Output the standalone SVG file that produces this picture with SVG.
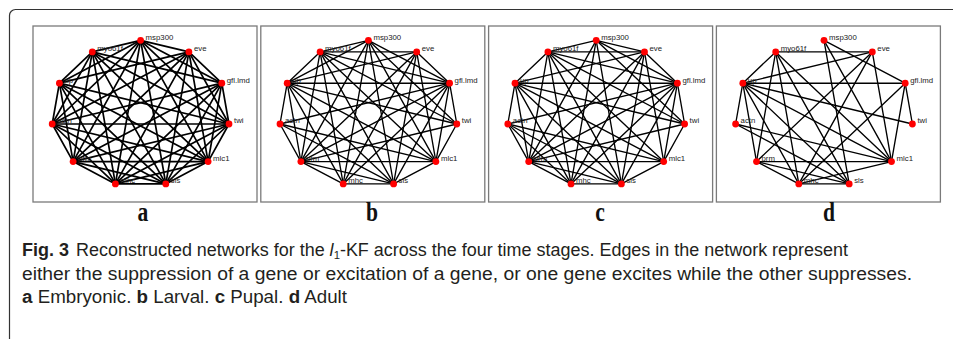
<svg xmlns="http://www.w3.org/2000/svg" width="953" height="339" viewBox="0 0 953 339">
<style>
  .frame{fill:none;stroke:#333;stroke-width:1.2}
  .panel{fill:#fff;stroke:#7a7a7a;stroke-width:1.3}
  .edges line{stroke:#000;stroke-width:1.35;stroke-linecap:round}
  #a-edges line{stroke-width:1.7}
  .node circle{fill:#ff0000}
  .node text{font-family:"Liberation Sans",Arial,sans-serif;font-size:7.8px;fill:#222}
  .tag{font-family:"Liberation Serif","Times New Roman",serif;font-weight:bold;font-size:27px;fill:#111;text-anchor:middle}
  .cap{font-family:"Liberation Sans",Arial,sans-serif;font-size:17.5px;fill:#231f20}
</style>
<rect class="frame" x="9.5" y="9.5" width="960" height="336" rx="6"/>

<!-- panel a: embryonic -->
<g id="panel-a" transform="translate(140.6,113.6)">
  <rect class="panel" x="-107.6" y="-87.6" width="224" height="176"/>
  <g id="a-edges" class="edges">
    <line x1="0" y1="-73.3" x2="48.3" y2="-61.7"/>
    <line x1="0" y1="-73.3" x2="81.2" y2="-30.4"/>
    <line x1="0" y1="-73.3" x2="88.4" y2="10.4"/>
    <line x1="0" y1="-73.3" x2="67.5" y2="48"/>
    <line x1="0" y1="-73.3" x2="25.2" y2="70.3"/>
    <line x1="0" y1="-73.3" x2="-25.2" y2="70.3"/>
    <line x1="0" y1="-73.3" x2="-67.5" y2="48"/>
    <line x1="0" y1="-73.3" x2="-88.4" y2="10.4"/>
    <line x1="0" y1="-73.3" x2="-81.2" y2="-30.4"/>
    <line x1="0" y1="-73.3" x2="-48.3" y2="-61.7"/>
    <line x1="48.3" y1="-61.7" x2="81.2" y2="-30.4"/>
    <line x1="48.3" y1="-61.7" x2="88.4" y2="10.4"/>
    <line x1="48.3" y1="-61.7" x2="67.5" y2="48"/>
    <line x1="48.3" y1="-61.7" x2="25.2" y2="70.3"/>
    <line x1="48.3" y1="-61.7" x2="-25.2" y2="70.3"/>
    <line x1="48.3" y1="-61.7" x2="-67.5" y2="48"/>
    <line x1="48.3" y1="-61.7" x2="-88.4" y2="10.4"/>
    <line x1="48.3" y1="-61.7" x2="-81.2" y2="-30.4"/>
    <line x1="81.2" y1="-30.4" x2="88.4" y2="10.4"/>
    <line x1="81.2" y1="-30.4" x2="67.5" y2="48"/>
    <line x1="81.2" y1="-30.4" x2="25.2" y2="70.3"/>
    <line x1="81.2" y1="-30.4" x2="-25.2" y2="70.3"/>
    <line x1="81.2" y1="-30.4" x2="-67.5" y2="48"/>
    <line x1="81.2" y1="-30.4" x2="-88.4" y2="10.4"/>
    <line x1="81.2" y1="-30.4" x2="-48.3" y2="-61.7"/>
    <line x1="88.4" y1="10.4" x2="67.5" y2="48"/>
    <line x1="88.4" y1="10.4" x2="25.2" y2="70.3"/>
    <line x1="88.4" y1="10.4" x2="-25.2" y2="70.3"/>
    <line x1="88.4" y1="10.4" x2="-67.5" y2="48"/>
    <line x1="88.4" y1="10.4" x2="-88.4" y2="10.4"/>
    <line x1="88.4" y1="10.4" x2="-81.2" y2="-30.4"/>
    <line x1="88.4" y1="10.4" x2="-48.3" y2="-61.7"/>
    <line x1="67.5" y1="48" x2="25.2" y2="70.3"/>
    <line x1="67.5" y1="48" x2="-25.2" y2="70.3"/>
    <line x1="67.5" y1="48" x2="-67.5" y2="48"/>
    <line x1="67.5" y1="48" x2="-88.4" y2="10.4"/>
    <line x1="67.5" y1="48" x2="-81.2" y2="-30.4"/>
    <line x1="67.5" y1="48" x2="-48.3" y2="-61.7"/>
    <line x1="25.2" y1="70.3" x2="-25.2" y2="70.3"/>
    <line x1="25.2" y1="70.3" x2="-67.5" y2="48"/>
    <line x1="25.2" y1="70.3" x2="-88.4" y2="10.4"/>
    <line x1="25.2" y1="70.3" x2="-81.2" y2="-30.4"/>
    <line x1="25.2" y1="70.3" x2="-48.3" y2="-61.7"/>
    <line x1="-25.2" y1="70.3" x2="-67.5" y2="48"/>
    <line x1="-25.2" y1="70.3" x2="-88.4" y2="10.4"/>
    <line x1="-25.2" y1="70.3" x2="-81.2" y2="-30.4"/>
    <line x1="-25.2" y1="70.3" x2="-48.3" y2="-61.7"/>
    <line x1="-67.5" y1="48" x2="-88.4" y2="10.4"/>
    <line x1="-67.5" y1="48" x2="-81.2" y2="-30.4"/>
    <line x1="-67.5" y1="48" x2="-48.3" y2="-61.7"/>
    <line x1="-88.4" y1="10.4" x2="-81.2" y2="-30.4"/>
    <line x1="-88.4" y1="10.4" x2="-48.3" y2="-61.7"/>
    <line x1="-81.2" y1="-30.4" x2="-48.3" y2="-61.7"/>
  </g>
  <g id="a-msp300" class="node"><circle cx="0" cy="-73.3" r="3.4"/><text x="5" y="-73.8">msp300</text></g>
  <g id="a-eve" class="node"><circle cx="48.3" cy="-61.7" r="3.4"/><text x="53.3" y="-62.2">eve</text></g>
  <g id="a-gfl" class="node"><circle cx="81.2" cy="-30.4" r="3.4"/><text x="86.2" y="-30.9">gfl.lmd</text></g>
  <g id="a-twi" class="node"><circle cx="88.4" cy="10.4" r="3.4"/><text x="93.4" y="9.9">twi</text></g>
  <g id="a-mlc1" class="node"><circle cx="67.5" cy="48" r="3.4"/><text x="72.5" y="47.5">mlc1</text></g>
  <g id="a-sls" class="node"><circle cx="25.2" cy="70.3" r="3.4"/><text x="30.2" y="69.8">sls</text></g>
  <g id="a-mhc" class="node"><circle cx="-25.2" cy="70.3" r="3.4"/><text x="-20.2" y="69.8">mhc</text></g>
  <g id="a-prm" class="node"><circle cx="-67.5" cy="48" r="3.4"/><text x="-62.5" y="47.5">prm</text></g>
  <g id="a-actn" class="node"><circle cx="-88.4" cy="10.4" r="3.4"/><text x="-83.4" y="9.9">actn</text></g>
  <g id="a-up" class="node"><circle cx="-81.2" cy="-30.4" r="3.4"/><text x="-76.2" y="-30.9">up</text></g>
  <g id="a-myo61f" class="node"><circle cx="-48.3" cy="-61.7" r="3.4"/><text x="-43.3" y="-62.2">myo61f</text></g>
</g>

<!-- panel b: larval -->
<g id="panel-b" transform="translate(368.4,113.6)">
  <rect class="panel" x="-107.6" y="-87.6" width="224" height="176"/>
  <g id="b-edges" class="edges">
    <line x1="0" y1="-73.3" x2="-48.3" y2="-61.7"/>
    <line x1="0" y1="-73.3" x2="-81.2" y2="-30.4"/>
    <line x1="0" y1="-73.3" x2="-67.5" y2="48"/>
    <line x1="0" y1="-73.3" x2="-25.2" y2="70.3"/>
    <line x1="0" y1="-73.3" x2="25.2" y2="70.3"/>
    <line x1="0" y1="-73.3" x2="67.5" y2="48"/>
    <line x1="0" y1="-73.3" x2="88.4" y2="10.4"/>
    <line x1="0" y1="-73.3" x2="81.2" y2="-30.4"/>
    <line x1="48.3" y1="-61.7" x2="-48.3" y2="-61.7"/>
    <line x1="48.3" y1="-61.7" x2="-81.2" y2="-30.4"/>
    <line x1="48.3" y1="-61.7" x2="-67.5" y2="48"/>
    <line x1="48.3" y1="-61.7" x2="-25.2" y2="70.3"/>
    <line x1="48.3" y1="-61.7" x2="67.5" y2="48"/>
    <line x1="48.3" y1="-61.7" x2="81.2" y2="-30.4"/>
    <line x1="48.3" y1="-61.7" x2="25.2" y2="70.3"/>
    <line x1="81.2" y1="-30.4" x2="-81.2" y2="-30.4"/>
    <line x1="81.2" y1="-30.4" x2="-48.3" y2="-61.7"/>
    <line x1="81.2" y1="-30.4" x2="-88.4" y2="10.4"/>
    <line x1="81.2" y1="-30.4" x2="-67.5" y2="48"/>
    <line x1="81.2" y1="-30.4" x2="-25.2" y2="70.3"/>
    <line x1="81.2" y1="-30.4" x2="25.2" y2="70.3"/>
    <line x1="81.2" y1="-30.4" x2="67.5" y2="48"/>
    <line x1="81.2" y1="-30.4" x2="88.4" y2="10.4"/>
    <line x1="88.4" y1="10.4" x2="67.5" y2="48"/>
    <line x1="88.4" y1="10.4" x2="-48.3" y2="-61.7"/>
    <line x1="88.4" y1="10.4" x2="-81.2" y2="-30.4"/>
    <line x1="88.4" y1="10.4" x2="-67.5" y2="48"/>
    <line x1="67.5" y1="48" x2="-67.5" y2="48"/>
    <line x1="67.5" y1="48" x2="25.2" y2="70.3"/>
    <line x1="67.5" y1="48" x2="-48.3" y2="-61.7"/>
    <line x1="67.5" y1="48" x2="-81.2" y2="-30.4"/>
    <line x1="67.5" y1="48" x2="-88.4" y2="10.4"/>
    <line x1="25.2" y1="70.3" x2="-25.2" y2="70.3"/>
    <line x1="25.2" y1="70.3" x2="-48.3" y2="-61.7"/>
    <line x1="25.2" y1="70.3" x2="-81.2" y2="-30.4"/>
    <line x1="25.2" y1="70.3" x2="-88.4" y2="10.4"/>
    <line x1="25.2" y1="70.3" x2="-67.5" y2="48"/>
    <line x1="-25.2" y1="70.3" x2="-67.5" y2="48"/>
    <line x1="-25.2" y1="70.3" x2="-81.2" y2="-30.4"/>
    <line x1="-25.2" y1="70.3" x2="-48.3" y2="-61.7"/>
    <line x1="-67.5" y1="48" x2="-88.4" y2="10.4"/>
    <line x1="-67.5" y1="48" x2="-81.2" y2="-30.4"/>
    <line x1="-67.5" y1="48" x2="-48.3" y2="-61.7"/>
    <line x1="-88.4" y1="10.4" x2="-81.2" y2="-30.4"/>
    <line x1="-81.2" y1="-30.4" x2="-48.3" y2="-61.7"/>
  </g>
  <g id="b-msp300" class="node"><circle cx="0" cy="-73.3" r="3.4"/><text x="5" y="-73.8">msp300</text></g>
  <g id="b-eve" class="node"><circle cx="48.3" cy="-61.7" r="3.4"/><text x="53.3" y="-62.2">eve</text></g>
  <g id="b-gfl" class="node"><circle cx="81.2" cy="-30.4" r="3.4"/><text x="86.2" y="-30.9">gfl.lmd</text></g>
  <g id="b-twi" class="node"><circle cx="88.4" cy="10.4" r="3.4"/><text x="93.4" y="9.9">twi</text></g>
  <g id="b-mlc1" class="node"><circle cx="67.5" cy="48" r="3.4"/><text x="72.5" y="47.5">mlc1</text></g>
  <g id="b-sls" class="node"><circle cx="25.2" cy="70.3" r="3.4"/><text x="30.2" y="69.8">sls</text></g>
  <g id="b-mhc" class="node"><circle cx="-25.2" cy="70.3" r="3.4"/><text x="-20.2" y="69.8">mhc</text></g>
  <g id="b-prm" class="node"><circle cx="-67.5" cy="48" r="3.4"/><text x="-62.5" y="47.5">prm</text></g>
  <g id="b-actn" class="node"><circle cx="-88.4" cy="10.4" r="3.4"/><text x="-83.4" y="9.9">actn</text></g>
  <g id="b-up" class="node"><circle cx="-81.2" cy="-30.4" r="3.4"/><text x="-76.2" y="-30.9">up</text></g>
  <g id="b-myo61f" class="node"><circle cx="-48.3" cy="-61.7" r="3.4"/><text x="-43.3" y="-62.2">myo61f</text></g>
</g>

<!-- panel c: pupal -->
<g id="panel-c" transform="translate(596.2,113.6)">
  <rect class="panel" x="-107.6" y="-87.6" width="224" height="176"/>
  <g id="c-edges" class="edges">
    <line x1="0" y1="-73.3" x2="48.3" y2="-61.7"/>
    <line x1="0" y1="-73.3" x2="81.2" y2="-30.4"/>
    <line x1="0" y1="-73.3" x2="88.4" y2="10.4"/>
    <line x1="0" y1="-73.3" x2="25.2" y2="70.3"/>
    <line x1="0" y1="-73.3" x2="-25.2" y2="70.3"/>
    <line x1="0" y1="-73.3" x2="-67.5" y2="48"/>
    <line x1="0" y1="-73.3" x2="-48.3" y2="-61.7"/>
    <line x1="48.3" y1="-61.7" x2="81.2" y2="-30.4"/>
    <line x1="48.3" y1="-61.7" x2="67.5" y2="48"/>
    <line x1="48.3" y1="-61.7" x2="25.2" y2="70.3"/>
    <line x1="48.3" y1="-61.7" x2="-25.2" y2="70.3"/>
    <line x1="48.3" y1="-61.7" x2="-67.5" y2="48"/>
    <line x1="48.3" y1="-61.7" x2="-81.2" y2="-30.4"/>
    <line x1="48.3" y1="-61.7" x2="-48.3" y2="-61.7"/>
    <line x1="81.2" y1="-30.4" x2="88.4" y2="10.4"/>
    <line x1="81.2" y1="-30.4" x2="67.5" y2="48"/>
    <line x1="81.2" y1="-30.4" x2="25.2" y2="70.3"/>
    <line x1="81.2" y1="-30.4" x2="-25.2" y2="70.3"/>
    <line x1="81.2" y1="-30.4" x2="-67.5" y2="48"/>
    <line x1="81.2" y1="-30.4" x2="-88.4" y2="10.4"/>
    <line x1="81.2" y1="-30.4" x2="-81.2" y2="-30.4"/>
    <line x1="81.2" y1="-30.4" x2="-48.3" y2="-61.7"/>
    <line x1="88.4" y1="10.4" x2="67.5" y2="48"/>
    <line x1="88.4" y1="10.4" x2="-67.5" y2="48"/>
    <line x1="88.4" y1="10.4" x2="-81.2" y2="-30.4"/>
    <line x1="88.4" y1="10.4" x2="-48.3" y2="-61.7"/>
    <line x1="67.5" y1="48" x2="25.2" y2="70.3"/>
    <line x1="67.5" y1="48" x2="-67.5" y2="48"/>
    <line x1="67.5" y1="48" x2="-88.4" y2="10.4"/>
    <line x1="67.5" y1="48" x2="-81.2" y2="-30.4"/>
    <line x1="67.5" y1="48" x2="-48.3" y2="-61.7"/>
    <line x1="25.2" y1="70.3" x2="-25.2" y2="70.3"/>
    <line x1="25.2" y1="70.3" x2="-67.5" y2="48"/>
    <line x1="25.2" y1="70.3" x2="-88.4" y2="10.4"/>
    <line x1="25.2" y1="70.3" x2="-81.2" y2="-30.4"/>
    <line x1="25.2" y1="70.3" x2="-48.3" y2="-61.7"/>
    <line x1="-25.2" y1="70.3" x2="-67.5" y2="48"/>
    <line x1="-25.2" y1="70.3" x2="-88.4" y2="10.4"/>
    <line x1="-25.2" y1="70.3" x2="-81.2" y2="-30.4"/>
    <line x1="-25.2" y1="70.3" x2="-48.3" y2="-61.7"/>
    <line x1="-67.5" y1="48" x2="-88.4" y2="10.4"/>
    <line x1="-67.5" y1="48" x2="-81.2" y2="-30.4"/>
    <line x1="-67.5" y1="48" x2="-48.3" y2="-61.7"/>
    <line x1="-88.4" y1="10.4" x2="-81.2" y2="-30.4"/>
    <line x1="-81.2" y1="-30.4" x2="-48.3" y2="-61.7"/>
  </g>
  <g id="c-msp300" class="node"><circle cx="0" cy="-73.3" r="3.4"/><text x="5" y="-73.8">msp300</text></g>
  <g id="c-eve" class="node"><circle cx="48.3" cy="-61.7" r="3.4"/><text x="53.3" y="-62.2">eve</text></g>
  <g id="c-gfl" class="node"><circle cx="81.2" cy="-30.4" r="3.4"/><text x="86.2" y="-30.9">gfl.lmd</text></g>
  <g id="c-twi" class="node"><circle cx="88.4" cy="10.4" r="3.4"/><text x="93.4" y="9.9">twi</text></g>
  <g id="c-mlc1" class="node"><circle cx="67.5" cy="48" r="3.4"/><text x="72.5" y="47.5">mlc1</text></g>
  <g id="c-sls" class="node"><circle cx="25.2" cy="70.3" r="3.4"/><text x="30.2" y="69.8">sls</text></g>
  <g id="c-mhc" class="node"><circle cx="-25.2" cy="70.3" r="3.4"/><text x="-20.2" y="69.8">mhc</text></g>
  <g id="c-prm" class="node"><circle cx="-67.5" cy="48" r="3.4"/><text x="-62.5" y="47.5">prm</text></g>
  <g id="c-actn" class="node"><circle cx="-88.4" cy="10.4" r="3.4"/><text x="-83.4" y="9.9">actn</text></g>
  <g id="c-up" class="node"><circle cx="-81.2" cy="-30.4" r="3.4"/><text x="-76.2" y="-30.9">up</text></g>
  <g id="c-myo61f" class="node"><circle cx="-48.3" cy="-61.7" r="3.4"/><text x="-43.3" y="-62.2">myo61f</text></g>
</g>

<!-- panel d: adult -->
<g id="panel-d" transform="translate(824,113.6)">
  <rect class="panel" x="-107.6" y="-87.6" width="224" height="176"/>
  <g id="d-edges" class="edges">
    <line x1="-48.3" y1="-61.7" x2="48.3" y2="-61.7"/>
    <line x1="-81.2" y1="-30.4" x2="81.2" y2="-30.4"/>
    <line x1="-67.5" y1="48" x2="67.5" y2="48"/>
    <line x1="-25.2" y1="70.3" x2="25.2" y2="70.3"/>
    <line x1="-48.3" y1="-61.7" x2="-81.2" y2="-30.4"/>
    <line x1="-81.2" y1="-30.4" x2="-88.4" y2="10.4"/>
    <line x1="-81.2" y1="-30.4" x2="-67.5" y2="48"/>
    <line x1="-81.2" y1="-30.4" x2="48.3" y2="-61.7"/>
    <line x1="-81.2" y1="-30.4" x2="88.4" y2="10.4"/>
    <line x1="-81.2" y1="-30.4" x2="67.5" y2="48"/>
    <line x1="-81.2" y1="-30.4" x2="25.2" y2="70.3"/>
    <line x1="-81.2" y1="-30.4" x2="-25.2" y2="70.3"/>
    <line x1="-88.4" y1="10.4" x2="67.5" y2="48"/>
    <line x1="-88.4" y1="10.4" x2="25.2" y2="70.3"/>
    <line x1="-67.5" y1="48" x2="-25.2" y2="70.3"/>
    <line x1="-67.5" y1="48" x2="25.2" y2="70.3"/>
    <line x1="-48.3" y1="-61.7" x2="-67.5" y2="48"/>
    <line x1="-48.3" y1="-61.7" x2="-25.2" y2="70.3"/>
    <line x1="-48.3" y1="-61.7" x2="25.2" y2="70.3"/>
    <line x1="-48.3" y1="-61.7" x2="67.5" y2="48"/>
    <line x1="48.3" y1="-61.7" x2="-67.5" y2="48"/>
    <line x1="48.3" y1="-61.7" x2="-25.2" y2="70.3"/>
    <line x1="48.3" y1="-61.7" x2="67.5" y2="48"/>
    <line x1="0" y1="-73.3" x2="81.2" y2="-30.4"/>
    <line x1="0" y1="-73.3" x2="25.2" y2="70.3"/>
    <line x1="0" y1="-73.3" x2="67.5" y2="48"/>
    <line x1="81.2" y1="-30.4" x2="88.4" y2="10.4"/>
    <line x1="81.2" y1="-30.4" x2="67.5" y2="48"/>
    <line x1="81.2" y1="-30.4" x2="-25.2" y2="70.3"/>
    <line x1="67.5" y1="48" x2="-25.2" y2="70.3"/>
  </g>
  <g id="d-msp300" class="node"><circle cx="0" cy="-73.3" r="3.4"/><text x="5" y="-73.8">msp300</text></g>
  <g id="d-eve" class="node"><circle cx="48.3" cy="-61.7" r="3.4"/><text x="53.3" y="-62.2">eve</text></g>
  <g id="d-gfl" class="node"><circle cx="81.2" cy="-30.4" r="3.4"/><text x="86.2" y="-30.9">gfl.lmd</text></g>
  <g id="d-twi" class="node"><circle cx="88.4" cy="10.4" r="3.4"/><text x="93.4" y="9.9">twi</text></g>
  <g id="d-mlc1" class="node"><circle cx="67.5" cy="48" r="3.4"/><text x="72.5" y="47.5">mlc1</text></g>
  <g id="d-sls" class="node"><circle cx="25.2" cy="70.3" r="3.4"/><text x="30.2" y="69.8">sls</text></g>
  <g id="d-mhc" class="node"><circle cx="-25.2" cy="70.3" r="3.4"/><text x="-20.2" y="69.8">mhc</text></g>
  <g id="d-prm" class="node"><circle cx="-67.5" cy="48" r="3.4"/><text x="-62.5" y="47.5">prm</text></g>
  <g id="d-actn" class="node"><circle cx="-88.4" cy="10.4" r="3.4"/><text x="-83.4" y="9.9">actn</text></g>
  <g id="d-up" class="node"><circle cx="-81.2" cy="-30.4" r="3.4"/><text x="-76.2" y="-30.9">up</text></g>
  <g id="d-myo61f" class="node"><circle cx="-48.3" cy="-61.7" r="3.4"/><text x="-43.3" y="-62.2">myo61f</text></g>
</g>

<!-- panel letters (bold serif, slightly condensed) -->
<text class="tag" transform="translate(143,221) scale(0.8,1)">a</text>
<text class="tag" transform="translate(372,221) scale(0.8,1)">b</text>
<text class="tag" transform="translate(600,221) scale(0.8,1)">c</text>
<text class="tag" transform="translate(829,221) scale(0.8,1)">d</text>

<!-- caption -->
<text class="cap" x="22" y="256" textLength="826" lengthAdjust="spacingAndGlyphs"><tspan font-weight="bold">Fig. 3</tspan><tspan dx="7">Reconstructed networks for the </tspan><tspan font-style="italic">l</tspan><tspan font-size="11" dy="3">1</tspan><tspan dy="-3">-KF across the four time stages. Edges in the network represent</tspan></text>
<text class="cap" x="22" y="280" textLength="890" lengthAdjust="spacingAndGlyphs">either the suppression of a gene or excitation of a gene, or one gene excites while the other suppresses.</text>
<text class="cap" x="22" y="303" textLength="325" lengthAdjust="spacingAndGlyphs"><tspan font-weight="bold">a</tspan> Embryonic. <tspan font-weight="bold">b</tspan> Larval. <tspan font-weight="bold">c</tspan> Pupal. <tspan font-weight="bold">d</tspan> Adult</text>
</svg>
